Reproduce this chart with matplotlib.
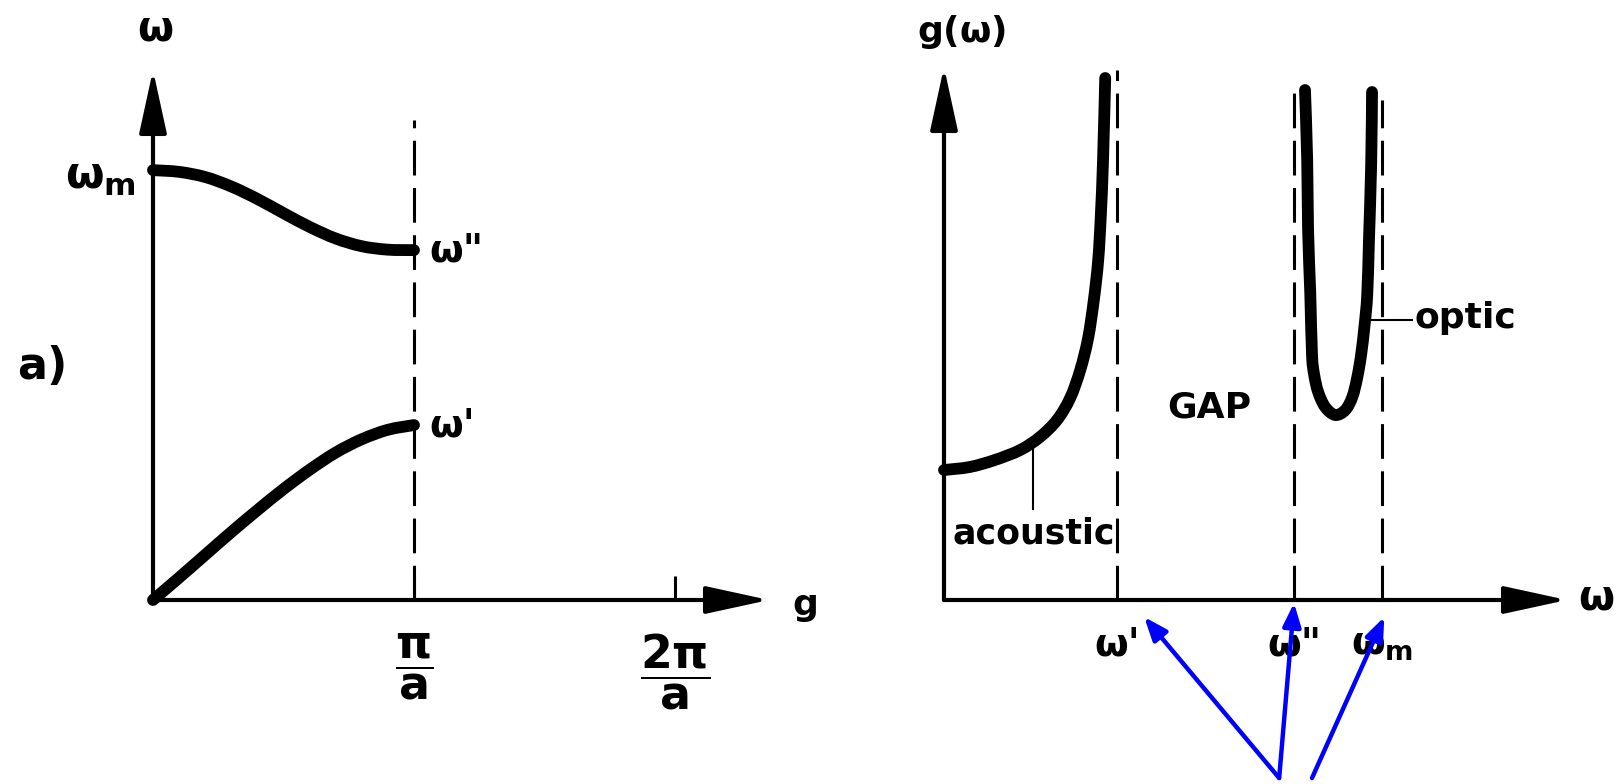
import matplotlib
matplotlib.use("Agg")
import matplotlib.pyplot as plt
import numpy as np
from matplotlib.path import Path
from matplotlib.patches import PathPatch

plt.rcParams["font.family"] = ["DejaVu Sans"]
plt.rcParams["font.weight"] = "bold"
plt.rcParams["mathtext.fontset"] = "custom"
plt.rcParams["mathtext.rm"] = "DejaVu Sans:bold"
plt.rcParams["mathtext.it"] = "DejaVu Sans:bold"
plt.rcParams["mathtext.bf"] = "DejaVu Sans:bold"
plt.rcParams["lines.scale_dashes"] = False

# ---- (a) dispersion of the diatomic chain: q in units of pi/a, omega in units of omega_m
q_optical = [0.0, 0.1, 0.2, 0.3, 0.4, 0.5, 0.6, 0.7, 0.8, 0.9, 1.0]
w_optical = [1.0, 0.996, 0.984, 0.962, 0.933, 0.900, 0.868, 0.841, 0.823, 0.815, 0.814]
q_acoustic = [0.0, 0.1, 0.2, 0.3, 0.4, 0.5, 0.6, 0.7, 0.8, 0.9, 1.0]
w_acoustic = [0.0, 0.052, 0.105, 0.158, 0.209, 0.258, 0.303, 0.343, 0.374, 0.396, 0.407]
q_ticks = [1, 2]
q_ticklabels = [r"$\dfrac{\pi}{a}$", r"$\dfrac{2\pi}{a}$"]
q_zone_edge = 1.0

# ---- (b) density of states g(omega), omega in units of omega_m
dos_w_acoustic = [0.0, 0.059, 0.116, 0.174, 0.219, 0.258, 0.288, 0.311, 0.329,
                  0.342, 0.352, 0.358, 0.363, 0.368]
dos_g_acoustic = [1.30, 1.33, 1.40, 1.50, 1.63, 1.80, 2.02, 2.30, 2.62,
                  3.00, 3.40, 3.85, 4.40, 5.22]
dos_w_optic = [0.824, 0.829, 0.831, 0.836, 0.840, 0.845, 0.854, 0.870, 0.893, 0.916,
               0.932, 0.943, 0.952, 0.960, 0.966, 0.970, 0.975, 0.977]
dos_g_optic = [5.10, 4.40, 3.70, 3.07, 2.45, 2.25, 2.08, 1.93, 1.85, 1.90,
               2.03, 2.22, 2.45, 2.75, 3.05, 3.60, 4.35, 5.08]
w_marks = [0.395, 0.799, 1.0]
w_mark_labels = ["ω'", 'ω"', r"$\omega_m$"]
w_mark_tops = [5.30, 5.10, 5.00]
acoustic_leader_w = 0.203
optic_leader_g = 2.80

BLACK = "black"
BLUE = "#0000ff"
DASH = (0, (25, 9))
AXIS_ARROW = "-|>,head_length=3.9,head_width=0.85"


def smooth_curve(xs, ys):
    """Catmull-Rom curve through the points, as a cubic Bezier path."""
    pts = list(zip(xs, ys))
    n = len(pts)
    verts = [pts[0]]
    codes = [Path.MOVETO]
    for i in range(n - 1):
        p0 = pts[max(i - 1, 0)]
        p1 = pts[i]
        p2 = pts[i + 1]
        p3 = pts[min(i + 2, n - 1)]
        c1 = (p1[0] + (p2[0] - p0[0]) / 6, p1[1] + (p2[1] - p0[1]) / 6)
        c2 = (p2[0] - (p3[0] - p1[0]) / 6, p2[1] - (p3[1] - p1[1]) / 6)
        verts += [c1, c2, p2]
        codes += [Path.CURVE4] * 3
    return Path(verts, codes)


def draw_band(ax, xs, ys, lw=8.5):
    patch = PathPatch(smooth_curve(xs, ys), facecolor="none", edgecolor=BLACK,
                      lw=lw, capstyle="round", joinstyle="round", clip_on=False)
    ax.add_patch(patch)


def axis_arrow(ax, tip):
    ax.annotate("", xy=tip, xytext=(0, 0), xycoords="data",
                arrowprops=dict(arrowstyle=AXIS_ARROW, lw=3, color=BLACK,
                                mutation_scale=10, shrinkA=0, shrinkB=0),
                annotation_clip=False)


fig = plt.figure(figsize=(16.22, 7.84), dpi=100)
fig.patch.set_facecolor("white")

# left panel: dispersion relation
axL = fig.add_axes([153 / 1622, 184 / 784, 616 / 1622, 530 / 784])
axL.set_xlim(0, 2.36)
axL.set_ylim(0, 1.233)
for s in axL.spines.values():
    s.set_visible(False)
axL.set_yticks([])
axL.set_xticks(q_ticks)
axL.set_xticklabels(q_ticklabels, fontsize=33)
axL.tick_params(axis="x", direction="in", length=17, width=2.2, pad=23)

axis_arrow(axL, (2.36, 0))
axis_arrow(axL, (0, 1.233))

axL.vlines(q_zone_edge, 0, 1.116, colors=BLACK, linestyles=DASH, lw=2.2)
draw_band(axL, q_optical, w_optical)
draw_band(axL, q_acoustic, w_acoustic)

axL.text(0.01, 1.33, r"$\omega$", fontsize=30, ha="center", va="center")
axL.text(-0.065, 0.985, r"$\omega_m$", fontsize=32, ha="right", va="center")
axL.text(q_zone_edge + 0.06, w_optical[-1], 'ω"', fontsize=28, ha="left", va="center")
axL.text(q_zone_edge + 0.06, w_acoustic[-1], "ω'", fontsize=28, ha="left", va="center")
axL.text(2.50, -0.012, "g", fontsize=26, ha="center", va="center")
fig.text(17 / 1622, 1 - 367 / 784, "a)", fontsize=32, ha="left", va="center")

# right panel: density of states
axR = fig.add_axes([944 / 1622, 184 / 784, 623 / 1622, 533 / 784])
axR.set_xlim(0, 1.422)
axR.set_ylim(0, 5.33)
for s in axR.spines.values():
    s.set_visible(False)
axR.set_yticks([])
axR.set_xticks(w_marks)
axR.set_xticklabels(w_mark_labels, fontsize=28)
axR.tick_params(axis="x", length=0, pad=18)

axis_arrow(axR, (1.422, 0))
axis_arrow(axR, (0, 5.33))

axR.vlines(w_marks, 0, w_mark_tops, colors=BLACK, linestyles=DASH, lw=2.2)
draw_band(axR, dos_w_acoustic, dos_g_acoustic)
draw_band(axR, dos_w_optic, dos_g_optic)

# leaders and labels for the two bands
leader_top = np.interp(acoustic_leader_w, dos_w_acoustic, dos_g_acoustic)
axR.vlines(acoustic_leader_w, 0.90, leader_top, colors=BLACK, lw=1.5)
axR.text(0.02, 0.67, "acoustic", fontsize=25, ha="left", va="center")
axR.hlines(optic_leader_g, 0.966, 1.071, colors=BLACK, lw=1.5)
axR.text(1.074, optic_leader_g + 0.02, "optic", fontsize=26, ha="left", va="center")
axR.text(0.605, 1.92, "GAP", fontsize=26, ha="center", va="center")

axR.text(0.041, 5.68, r"g($\omega$)", fontsize=26, ha="center", va="center")
axR.text(1.488, 0.02, r"$\omega$", fontsize=30, ha="center", va="center")

# blue pointers to the three characteristic frequencies
arrow_tails = [(0.765, -1.78), (0.765, -1.78), (0.84, -1.78)]
arrow_heads = [(w_marks[0] + 0.062, -0.17), (w_marks[1], -0.03), (w_marks[2] + 0.005, -0.17)]
for (tx, ty), (hx, hy) in zip(arrow_tails, arrow_heads):
    axR.annotate("", xy=(hx, hy), xytext=(tx, ty), xycoords="data",
                 arrowprops=dict(arrowstyle="-|>,head_length=1.4,head_width=0.55",
                                 lw=3.2, color=BLUE, mutation_scale=10,
                                 shrinkA=0, shrinkB=0),
                 annotation_clip=False)

fig.savefig("out.png", dpi=100, facecolor="white")
